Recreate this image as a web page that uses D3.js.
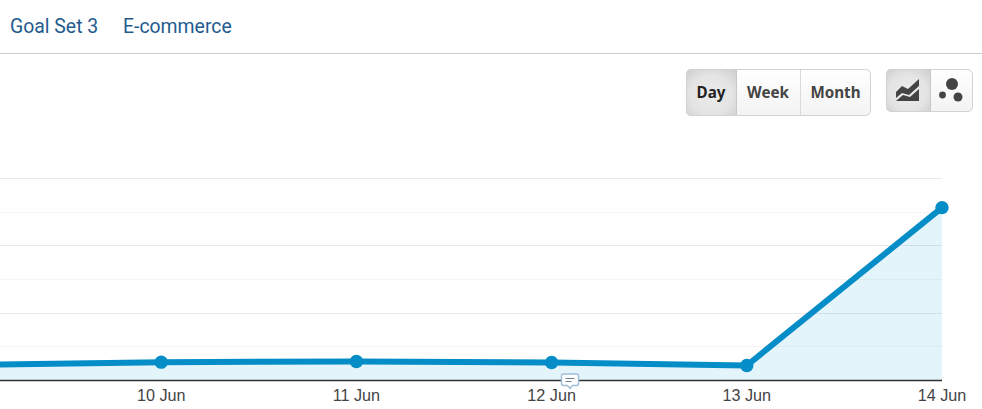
<!DOCTYPE html>
<html><head><meta charset="utf-8">
<script src="https://cdn.jsdelivr.net/npm/d3@7/dist/d3.min.js"></script>
<style>html,body{margin:0;padding:0;background:#fff}svg{display:block}</style></head>
<body><svg id="c" width="982" height="409"></svg>
<script>
const categories=["9 Jun","10 Jun","11 Jun","12 Jun","13 Jun","14 Jun"];
const seriesValues=[0.45,0.53,0.55,0.52,0.43,5.12];
const tabs=[{t:"Goal Set 3",x:10},{t:"E-commerce",x:123}];
const gridMajor=[2,4,6];
const gridMinor=[1,3,5];
const periods=[{t:"Day",x0:686,x1:736,on:true},{t:"Week",x0:736,x1:800},{t:"Month",x0:800,x1:871}];

const svg=d3.select("#c");
const defs=svg.append("defs");
const g1=defs.append("linearGradient").attr("id","btn").attr("x2",0).attr("y2",1);
g1.append("stop").attr("offset",0).attr("stop-color","#ffffff");
g1.append("stop").attr("offset",1).attr("stop-color","#f3f3f3");
const g2=defs.append("radialGradient").attr("id","on").attr("cx",.5).attr("cy",.55).attr("r",.7);
g2.append("stop").attr("offset",0).attr("stop-color","#ebebeb");
g2.append("stop").attr("offset",.6).attr("stop-color","#e4e4e4");
g2.append("stop").attr("offset",1).attr("stop-color","#cfcfcf");

// header
svg.selectAll("text.tab").data(tabs).join("text").attr("class","tab")
  .attr("x",d=>d.x).attr("y",33).text(d=>d.t)
  .attr("font-family","Roboto").attr("font-size",19.4).attr("fill","#1f5b8e");
svg.append("line").attr("x1",0).attr("x2",982).attr("y1",53.5).attr("y2",53.5).attr("stroke","#cccccc");

// scales
const x=d3.scalePoint().domain(categories).range([-34,942]);
const y=d3.scaleLinear().domain([0,6]).range([380,178]);

// grid
const grid=svg.append("g");
grid.selectAll("line.maj").data(gridMajor).join("line").attr("class","maj")
  .attr("x1",0).attr("x2",942).attr("y1",d=>Math.round(y(d))+.5).attr("y2",d=>Math.round(y(d))+.5).attr("stroke","#e8e8e8");
grid.selectAll("line.min").data(gridMinor).join("line").attr("class","min")
  .attr("x1",0).attr("x2",942).attr("y1",d=>Math.round(y(d))+.5).attr("y2",d=>Math.round(y(d))+.5).attr("stroke","#f5f5f5");

// series
const pts=categories.map((c,i)=>({c,v:seriesValues[i]}));
svg.append("path").datum(pts).attr("fill","#0c9ade").attr("fill-opacity",.11)
  .attr("d",d3.area().x(d=>x(d.c)).y0(y(0)).y1(d=>y(d.v)));
svg.append("line").attr("x1",0).attr("x2",942).attr("y1",380.5).attr("y2",380.5).attr("stroke","#333").attr("stroke-width",1.4);
svg.append("path").datum(pts).attr("fill","none").attr("stroke","#058dc7").attr("stroke-width",6)
  .attr("stroke-linejoin","round").attr("d",d3.line().x(d=>x(d.c)).y(d=>y(d.v)));
svg.selectAll("circle.p").data(pts).join("circle").attr("class","p")
  .attr("cx",d=>x(d.c)).attr("cy",d=>y(d.v)).attr("r",6.7).attr("fill","#058dc7");

// tick labels
svg.selectAll("text.tick").data(categories.slice(1)).join("text").attr("class","tick")
  .attr("x",d=>x(d)).attr("y",401).attr("text-anchor","middle").text(d=>d)
  .attr("font-family","Liberation Sans").attr("font-size",16.2).attr("fill","#444");

// annotation bubble
const b=svg.append("g").attr("transform","translate(570,381)");
b.append("path").attr("d","M-6.5,-7 h13 a2,2 0 0 1 2,2 v7.5 a2,2 0 0 1 -2,2 h-4 l-2.5,3 l-2.5,-3 h-4 a2,2 0 0 1 -2,-2 v-7.5 a2,2 0 0 1 2,-2z")
  .attr("fill","#fff").attr("stroke","#9dbdd6").attr("stroke-width",1.4);
b.append("path").attr("d","M-4.5,-2.5 h9 M-4.5,0.5 h6").attr("stroke","#6f7f8c").attr("stroke-width",1);

// period buttons
function group(x0,x1,y0,y1,id){
  const cp=defs.append("clipPath").attr("id",id);
  cp.append("rect").attr("x",x0).attr("y",y0).attr("width",x1-x0).attr("height",y1-y0).attr("rx",5);
  return svg.append("g").attr("clip-path",`url(#${id})`);
}
const pg=group(686,871,69,116,"cp1");
pg.selectAll("rect").data(periods).join("rect").attr("x",d=>d.x0).attr("y",69).attr("width",d=>d.x1-d.x0).attr("height",47)
  .attr("fill",d=>d.on?"url(#on)":"url(#btn)");
svg.append("rect").attr("x",686.5).attr("y",69.5).attr("width",184).attr("height",46).attr("rx",5).attr("fill","none").attr("stroke","#d2d2d2");
svg.append("line").attr("x1",736.5).attr("x2",736.5).attr("y1",70).attr("y2",115).attr("stroke","#c8c8c8");
svg.append("line").attr("x1",800.5).attr("x2",800.5).attr("y1",70).attr("y2",115).attr("stroke","#dadada");
svg.selectAll("text.per").data(periods).join("text").attr("class","per")
  .attr("x",d=>(d.x0+d.x1)/2).attr("y",98).attr("text-anchor","middle").text(d=>d.t)
  .attr("font-family","Noto Sans").attr("font-weight",700).attr("font-size",15.2)
  .attr("fill",d=>d.on?"#222":"#444");

// chart-type buttons
const ig=group(886,973,69,112,"cp2");
ig.append("rect").attr("x",886).attr("y",69).attr("width",44).attr("height",43).attr("fill","url(#on)");
ig.append("rect").attr("x",930).attr("y",69).attr("width",43).attr("height",43).attr("fill","url(#btn)");
svg.append("rect").attr("x",886.5).attr("y",69.5).attr("width",86).attr("height",42).attr("rx",5).attr("fill","none").attr("stroke","#d2d2d2");
svg.append("line").attr("x1",930.5).attr("x2",930.5).attr("y1",70).attr("y2",111).attr("stroke","#c8c8c8");
svg.append("path").attr("fill","#444").attr("d","M896,92 l6,-6 l6,3 l11,-10 v7 l-10,9 l-7,-2 l-6,5z M896,101 l7,-6 l7,2 l9,-8 v12z");
[[952,84,6],[942.5,95,3.4],[958,97,4.5]].forEach(c=>svg.append("circle").attr("cx",c[0]).attr("cy",c[1]).attr("r",c[2]).attr("fill","#444"));
</script></body></html>
